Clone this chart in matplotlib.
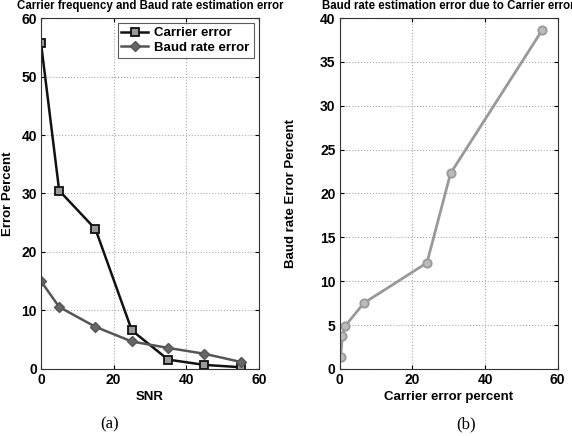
import matplotlib
matplotlib.use("Agg")
import matplotlib.pyplot as plt

# data
snr = [0, 5, 15, 25, 35, 45, 55]
carrier_err = [55.7, 30.5, 23.9, 6.6, 1.6, 0.7, 0.3]
baud_err = [15.0, 10.6, 7.2, 4.7, 3.6, 2.6, 1.2]

carrier_pct = [0.3, 0.7, 1.5, 6.6, 24.0, 30.5, 55.7]
baud_pct = [1.4, 3.8, 4.9, 7.5, 12.1, 22.3, 38.6]

plt.rcParams['font.family'] = ['Liberation Sans', 'DejaVu Sans']
plt.rcParams['font.weight'] = 'bold'

fig = plt.figure(figsize=(5.72, 4.36), dpi=100)
ax1 = fig.add_axes([0.0717, 0.1537, 0.381, 0.805])
ax2 = fig.add_axes([0.594, 0.1537, 0.381, 0.805])

ax1.plot(snr, carrier_err, color="#111111", lw=1.8, marker="s", ms=6,
         mfc="#999999", mec="#111111", mew=1.3, label="Carrier error")
ax1.plot(snr, baud_err, color="#555555", lw=1.8, marker="D", ms=5,
         mfc="#666666", mec="#555555", label="Baud rate error")
ax1.set_xlim(0, 60)
ax1.set_ylim(0, 60)
ax1.set_xticks([0, 20, 40, 60])
ax1.set_yticks([0, 10, 20, 30, 40, 50, 60])
ax1.set_xlabel("SNR", fontsize=9.5, fontweight="bold", labelpad=3)
ax1.set_ylabel("Error Percent", fontsize=9.5, fontweight="bold")
ax1.yaxis.set_label_coords(-0.125, 0.5)
ax1.set_title("Carrier frequency and Baud rate estimation error", fontsize=8.3,
              fontweight="bold", pad=6.5)
leg = ax1.legend(loc="upper right", fontsize=9.5, frameon=True, fancybox=False,
                 edgecolor="#333333", borderpad=0.3, handlelength=2.0,
                 labelspacing=0.15, borderaxespad=0.4, handletextpad=0.5)
leg.get_frame().set_linewidth(0.8)

ax2.plot(carrier_pct, baud_pct, color="#999999", lw=2.0, marker="o", ms=6,
         mfc="#bbbbbb", mec="#999999", mew=1.3)
ax2.set_xlim(0, 60)
ax2.set_ylim(0, 40)
ax2.set_xticks([0, 20, 40, 60])
ax2.set_yticks([0, 5, 10, 15, 20, 25, 30, 35, 40])
ax2.set_xlabel("Carrier error percent", fontsize=9.5, fontweight="bold", labelpad=3)
ax2.set_ylabel("Baud rate Error Percent", fontsize=9.5, fontweight="bold")
ax2.yaxis.set_label_coords(-0.195, 0.5)
ax2.set_title("Baud rate estimation error due to Carrier error", fontsize=8.3,
              fontweight="bold", pad=6.5)

for ax in (ax1, ax2):
    ax.grid(True, color="#aaaaaa", linestyle=":", linewidth=0.8)
    ax.tick_params(direction="in", top=True, right=True, length=3, labelsize=10,
                   pad=3, width=0.8)
    for lab in ax.get_xticklabels() + ax.get_yticklabels():
        lab.set_fontweight("bold")
    for s in ax.spines.values():
        s.set_color("#333333")
        s.set_linewidth(0.8)

fig.text(0.192, 0.018, "(a)", fontsize=12, family="Liberation Serif",
         fontweight="normal", ha="center")
fig.text(0.815, 0.018, "(b)", fontsize=12, family="Liberation Serif",
         fontweight="normal", ha="center")

fig.savefig("out.png", dpi=100)
